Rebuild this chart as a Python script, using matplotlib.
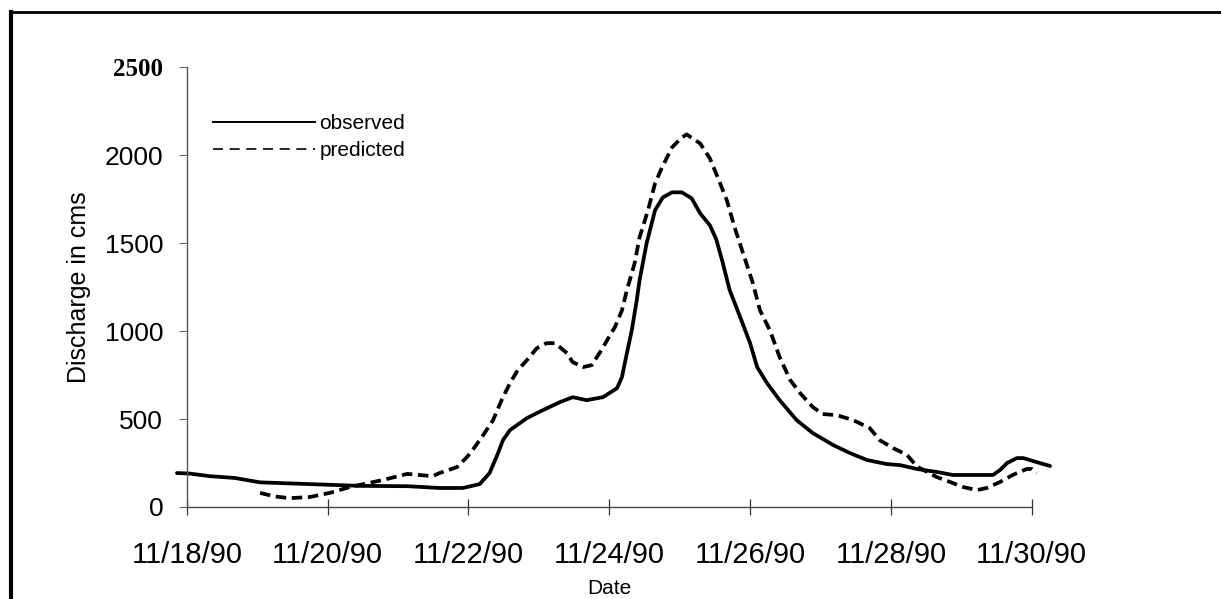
import numpy as np
import matplotlib
matplotlib.use('Agg')
from matplotlib import pyplot as plt
from matplotlib.lines import Line2D

plt.rcParams['font.family'] = ['Liberation Sans', 'DejaVu Sans']

# days after 11/18/90 and discharge (cms)
obs_day = [-0.14, 0.04, 0.33, 0.68, 1.04, 1.75, 2.46, 3.14, 3.59, 3.92, 4.16, 4.30,
           4.42, 4.49, 4.59, 4.83, 5.06, 5.30, 5.48, 5.68, 5.91, 6.11, 6.18, 6.25,
           6.32, 6.39, 6.43, 6.53, 6.65, 6.76, 6.89, 7.03, 7.17, 7.29, 7.43, 7.52,
           7.61, 7.71, 7.86, 8.00, 8.10, 8.24, 8.42, 8.66, 8.89, 9.18, 9.42, 9.66,
           9.94, 10.13, 10.37, 10.65, 10.88, 11.45, 11.55, 11.65, 11.79, 11.88,
           12.07, 12.26]
obs_q = [193, 190, 175, 165, 140, 130, 120, 118, 108, 108, 130, 193,
         306, 380, 437, 505, 551, 596, 624, 607, 624, 675, 738, 874,
         1005, 1175, 1288, 1498, 1686, 1759, 1788, 1788, 1754, 1669, 1600, 1520,
         1390, 1232, 1078, 931, 795, 704, 607, 494, 420, 352, 306, 267,
         244, 238, 216, 199, 182, 182, 210, 250, 278, 278,
         255, 233]

pred_day = [1.04, 1.25, 1.46, 1.75, 2.03, 2.32, 2.78, 3.13, 3.49, 3.59, 3.84, 3.98,
            4.06, 4.19, 4.35, 4.47, 4.59, 4.70, 4.83, 4.97, 5.11, 5.23, 5.40, 5.48,
            5.63, 5.75, 5.87, 5.97, 6.08, 6.18, 6.25, 6.36, 6.43, 6.55, 6.65, 6.75,
            6.89, 7.03, 7.10, 7.29, 7.43, 7.54, 7.67, 7.78, 7.90, 8.04, 8.14, 8.28,
            8.42, 8.57, 8.71, 8.89, 9.03, 9.23, 9.46, 9.70, 9.84, 10.03, 10.23, 10.37,
            10.65, 10.88, 11.02, 11.22, 11.36, 11.55, 11.73, 11.93, 12.00, 12.07]
pred_q = [80, 60, 50, 57, 80, 114, 153, 188, 175, 193, 227, 284,
          324, 397, 494, 607, 704, 778, 834, 902, 931, 931, 874, 823,
          795, 806, 880, 948, 1022, 1118, 1232, 1385, 1532, 1686, 1839, 1930,
          2043, 2100, 2117, 2066, 1980, 1873, 1742, 1589, 1442, 1271, 1118, 1005,
          851, 721, 647, 568, 528, 522, 494, 448, 380, 335, 295, 230,
          170, 136, 114, 96, 108, 142, 182, 216, 216, 193]

tick_days = [0, 2, 4, 6, 8, 10, 12]
tick_labels = ['11/18/90', '11/20/90', '11/22/90', '11/24/90',
               '11/26/90', '11/28/90', '11/30/90']
y_ticks = [0, 500, 1000, 1500, 2000, 2500]

fig = plt.figure(figsize=(12.21, 5.99), dpi=100)
ax = fig.add_axes([0.153, 0.1536, 0.692, 0.7345])

ax.plot(obs_day, obs_q, color='black', lw=2.7, clip_on=False,
        solid_joinstyle='round', solid_capstyle='round')
ax.plot(pred_day, pred_q, color='black', lw=2.7, clip_on=False,
        dashes=(2.8, 1.5))

ax.set_xlim(0, 12)
ax.set_ylim(0, 2500)
ax.set_xticks(tick_days)
ax.set_xticklabels(tick_labels)
ax.set_yticks(y_ticks)

for s in ['top', 'right']:
    ax.spines[s].set_visible(False)
ax.spines['left'].set_color('#555555')
ax.spines['left'].set_linewidth(1.0)
ax.spines['bottom'].set_color('#444444')
ax.spines['bottom'].set_linewidth(1.0)

ax.tick_params(axis='x', direction='inout', length=11, width=0.9, color='#333333',
               labelsize=21, pad=19)
ax.tick_params(axis='y', direction='out', length=6, width=0.8, color='#666666',
               labelsize=19, pad=11)
lab2500 = ax.get_yticklabels()[-1]
lab2500.set_fontfamily('Liberation Serif')
lab2500.set_fontweight('bold')
lab2500.set_fontsize(18)

ax.set_ylabel('Discharge in cms', fontsize=18, labelpad=10)
ax.set_xlabel('Date', fontsize=15)
ax.xaxis.set_label_coords(0.5, -0.163)

handles = [Line2D([], [], color='black', lw=1.4),
           Line2D([], [], color='black', lw=1.2, dashes=(6, 4))]
ax.legend(handles, ['observed', 'predicted'], loc='upper left',
          bbox_to_anchor=(0.031, 0.893), frameon=False, fontsize=15,
          handlelength=4.9, handletextpad=0.2, labelspacing=0.4,
          borderpad=0, borderaxespad=0)

# scanned page frame
fig.add_artist(Line2D([0.009, 1.0], [0.980, 0.980], color='black', lw=2))
fig.add_artist(Line2D([0.009, 0.009], [0.0, 0.980], color='black', lw=3))

fig.savefig('out.png', dpi=100)
